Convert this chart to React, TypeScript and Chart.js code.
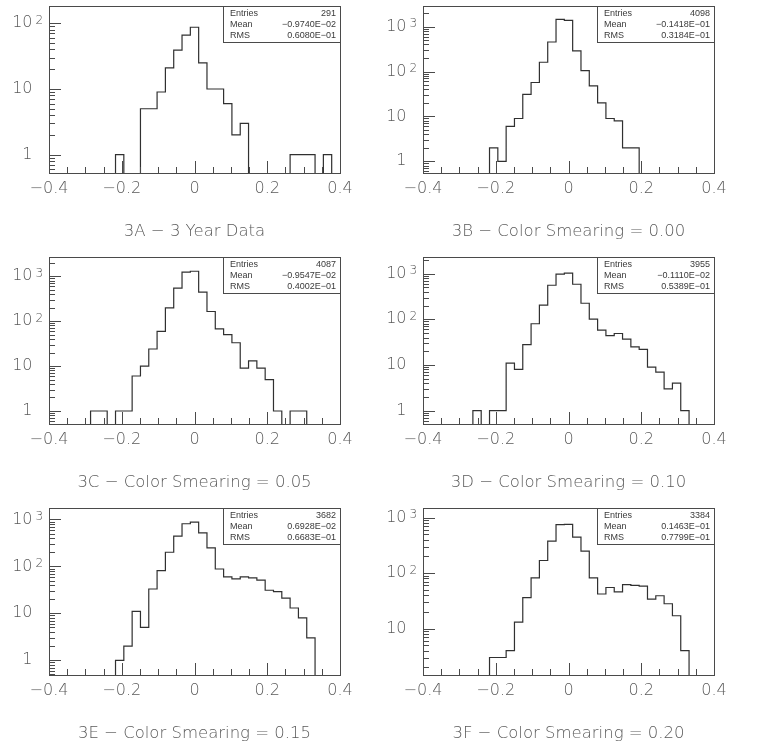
import React, { useEffect, useRef } from "react";
import { Chart, registerables } from "chart.js";

Chart.register(...registerables);

// ---------- data ----------
const X_MIN = -0.4;
const X_MAX = 0.4;
const xTickValues = [-0.4, -0.2, 0, 0.2, 0.4];
const X_MINOR_STEP = 0.05;

const captions = [
  "3A − 3 Year Data",
  "3B − Color Smearing = 0.00",
  "3C − Color Smearing = 0.05",
  "3D − Color Smearing = 0.10",
  "3E − Color Smearing = 0.15",
  "3F − Color Smearing = 0.20",
];
const statEntries = ["291", "4098", "4087", "3955", "3682", "3384"];
const statMeans = ["−0.9740E−02", "−0.1418E−01", "−0.9547E−02", "−0.1110E−02", "0.6928E−02", "0.1463E−01"];
const statRms = ["0.6080E−01", "0.3184E−01", "0.4002E−01", "0.5389E−01", "0.6683E−01", "0.7799E−01"];

const yMins = [0.527, 0.55, 0.513, 0.511, 0.486, 1.45];
const yMaxs = [183, 2880, 2677, 2317, 1750, 1496];

// 35 bins from -0.4 to 0.4
const counts3A = [0, 0, 0, 0, 0, 0, 0, 0, 1, 0, 0, 5, 5, 9, 21, 39, 66, 87, 25, 10, 10, 6, 2, 3, 0, 0, 0, 0, 0, 1, 1, 1, 0, 1, 0];
const counts3B = [0, 0, 0, 0, 0, 0, 0, 0, 2, 1, 6, 9, 31, 57, 161, 455, 1450, 1380, 288, 105, 48, 20, 9, 8, 2, 2, 0, 0, 0, 0, 0, 0, 0, 0, 0];
const counts3C = [0, 0, 0, 0, 0, 1, 1, 0, 1, 1, 6, 10, 24, 59, 198, 545, 1230, 1290, 443, 164, 67, 50, 33, 9, 13, 9, 5, 1, 0, 1, 1, 0, 0, 0, 0];
const counts3D = [0, 0, 0, 0, 0, 0, 1, 0, 1, 1, 11, 8, 28, 80, 204, 557, 980, 1030, 586, 225, 101, 58, 44, 49, 37, 25, 22, 9, 7, 3, 4, 1, 0, 0, 0];
const counts3E = [0, 0, 0, 0, 0, 0, 0, 0, 1, 2, 11, 5, 33, 81, 200, 441, 809, 878, 519, 248, 88, 60, 54, 60, 57, 51, 31, 29, 21, 13, 8, 3, 0, 0, 0];
const counts3F = [0, 0, 0, 0, 0, 0, 0, 0, 3, 3, 4, 13, 36, 82, 169, 378, 747, 757, 447, 249, 82, 42, 55, 46, 62, 60, 58, 34, 39, 28, 17, 4, 0, 0, 0];

const allCounts = [counts3A, counts3B, counts3C, counts3D, counts3E, counts3F];

// ---------- style / layout ----------
const PANEL_W = 374;
const PANEL_H = 251;
const AREA_LEFT = 49;
const AREA_RIGHT_PAD = 34;
const AREA_TOP = 6;
const AREA_H = 167;
const X_AXIS_H = 40;
const LABEL_COLOR = "#5a5a5a";
const FRAME_COLOR = "#4a4a4a";
const LINE_COLOR = "#303030";
const FONT = '"DejaVu Sans", sans-serif';
const FONT_WEIGHT = "200";

function buildPoints(counts: number[], floor: number) {
  const w = (X_MAX - X_MIN) / counts.length;
  const pts = counts.map((c, k) => ({ x: X_MIN + k * w, y: c > 0 ? c : floor }));
  pts.push({ x: X_MAX, y: floor });
  return pts;
}

function fmtX(v: number) {
  const r = Math.round(v * 10) / 10;
  if (r === 0) return "0";
  return (r < 0 ? "−" : "") + Math.abs(r).toString();
}

function makePlugin(idx: number) {
  return {
    id: "hbookDecor",
    afterDraw(chart: any) {
      const { ctx, chartArea: a, scales } = chart;
      const xs = scales.x;
      const ys = scales.y;
      const L = Math.round(a.left);
      const T = Math.round(a.top);
      const R = Math.round(a.right);
      const B = Math.round(a.bottom);
      ctx.save();

      // stats box
      const bw = 117;
      const bh = 36;
      const bx = R - bw;
      ctx.fillStyle = "#ffffff";
      ctx.fillRect(bx, T, bw, bh);
      ctx.strokeStyle = FRAME_COLOR;
      ctx.lineWidth = 1;
      ctx.strokeRect(bx + 0.5, T + 0.5, bw, bh);
      ctx.font = '9px "Liberation Sans", Arial, sans-serif';
      ctx.fillStyle = "#3a3a3a";
      ctx.textBaseline = "middle";
      const rows: [string, string][] = [
        ["Entries", statEntries[idx]],
        ["Mean", statMeans[idx]],
        ["RMS", statRms[idx]],
      ];
      rows.forEach((r, i) => {
        const ty = T + 7.5 + i * 11;
        ctx.textAlign = "left";
        ctx.fillText(r[0], bx + 7, ty);
        ctx.textAlign = "right";
        ctx.fillText(r[1], R - 4, ty);
      });

      // frame
      ctx.strokeStyle = FRAME_COLOR;
      ctx.lineWidth = 1;
      ctx.strokeRect(L + 0.5, T + 0.5, R - L, B - T);

      // x ticks (inward)
      ctx.beginPath();
      const nX = Math.round((X_MAX - X_MIN) / X_MINOR_STEP);
      for (let i = 1; i < nX; i++) {
        const v = X_MIN + i * X_MINOR_STEP;
        const px = Math.round(xs.getPixelForValue(v)) + 0.5;
        const len = i % 4 === 0 ? 12 : 6;
        ctx.moveTo(px, B);
        ctx.lineTo(px, B - len);
      }
      // y ticks (inward)
      const yMin = yMins[idx];
      const yMax = yMaxs[idx];
      const e0 = Math.floor(Math.log10(yMin));
      const e1 = Math.ceil(Math.log10(yMax));
      const decades: number[] = [];
      for (let e = e0; e <= e1; e++) {
        for (let d = 1; d <= 9; d++) {
          const val = d * Math.pow(10, e);
          if (val < yMin || val > yMax) continue;
          if (d === 1) decades.push(e);
          const py = Math.round(ys.getPixelForValue(val)) + 0.5;
          const len = d === 1 ? 12 : 6;
          ctx.moveTo(L, py);
          ctx.lineTo(L + len, py);
        }
      }
      ctx.stroke();

      // y labels
      ctx.fillStyle = LABEL_COLOR;
      decades.forEach((e) => {
        const py = ys.getPixelForValue(Math.pow(10, e));
        ctx.font = FONT_WEIGHT + " 16px " + FONT;
        ctx.textAlign = "right";
        ctx.textBaseline = "middle";
        ctx.fillText(e === 0 ? "1" : "10", L - 16.5, py);
        if (e >= 2) {
          ctx.font = FONT_WEIGHT + " 12px " + FONT;
          ctx.textAlign = "left";
          ctx.textBaseline = "alphabetic";
          ctx.fillText(String(e), L - 13.5, py + 0.5);
        }
      });

      ctx.restore();
    },
  };
}

function Panel({ idx }: { idx: number }) {
  const ref = useRef<HTMLCanvasElement | null>(null);
  useEffect(() => {
    if (!ref.current) return;
    const floor = yMins[idx] / 100;
    const chart = new Chart(ref.current, {
      type: "line",
      data: {
        datasets: [
          {
            data: buildPoints(allCounts[idx], floor),
            stepped: true,
            borderColor: LINE_COLOR,
            borderWidth: 1.2,
            pointRadius: 0,
            fill: false,
            tension: 0,
          },
        ],
      },
      options: {
        animation: false,
        responsive: false,
        events: [],
        layout: {
          padding: {
            left: 0,
            right: AREA_RIGHT_PAD,
            top: AREA_TOP,
            bottom: PANEL_H - AREA_TOP - AREA_H - X_AXIS_H,
          },
        },
        plugins: {
          legend: { display: false },
          tooltip: { enabled: false },
          title: { display: false },
        },
        scales: {
          x: {
            type: "linear",
            min: X_MIN,
            max: X_MAX,
            grid: { display: false, drawTicks: false },
            border: { display: false },
            afterBuildTicks: (s: any) => {
              s.ticks = xTickValues.map((v) => ({ value: v }));
            },
            afterFit: (s: any) => {
              s.height = X_AXIS_H;
            },
            ticks: {
              padding: 6,
              color: LABEL_COLOR,
              font: { family: FONT, size: 16, weight: FONT_WEIGHT },
              maxRotation: 0,
              autoSkip: false,
              callback: (v: any) => fmtX(Number(v)),
            },
          },
          y: {
            type: "logarithmic",
            min: yMins[idx],
            max: yMaxs[idx],
            grid: { display: false, drawTicks: false },
            border: { display: false },
            ticks: { display: false },
            afterFit: (s: any) => {
              s.width = AREA_LEFT;
            },
          },
        },
      },
      plugins: [makePlugin(idx)],
    } as any);
    return () => chart.destroy();
  }, [idx]);

  const col = idx % 2;
  const row = Math.floor(idx / 2);
  const left = col * PANEL_W;
  const top = row * PANEL_H;
  const centerX = left + AREA_LEFT + (PANEL_W - AREA_LEFT - AREA_RIGHT_PAD) / 2;
  return (
    <>
      <canvas
        ref={ref}
        width={PANEL_W}
        height={PANEL_H}
        style={{ position: "absolute", left, top, width: PANEL_W, height: PANEL_H }}
      />
      <div
        style={{
          position: "absolute",
          left: centerX - 160,
          width: 320,
          top: top + AREA_TOP + AREA_H + 58 - 10,
          height: 20,
          lineHeight: "20px",
          textAlign: "center",
          fontFamily: FONT,
          fontWeight: 200,
          fontSize: "16.5px",
          color: LABEL_COLOR,
          whiteSpace: "nowrap",
        }}
      >
        {captions[idx]}
      </div>
    </>
  );
}

export default function App() {
  return (
    <div
      style={{
        position: "absolute",
        left: 0,
        top: 0,
        width: 757,
        height: 747,
        background: "#ffffff",
        overflow: "hidden",
      }}
    >
      {[0, 1, 2, 3, 4, 5].map((i) => (
        <Panel key={i} idx={i} />
      ))}
    </div>
  );
}
